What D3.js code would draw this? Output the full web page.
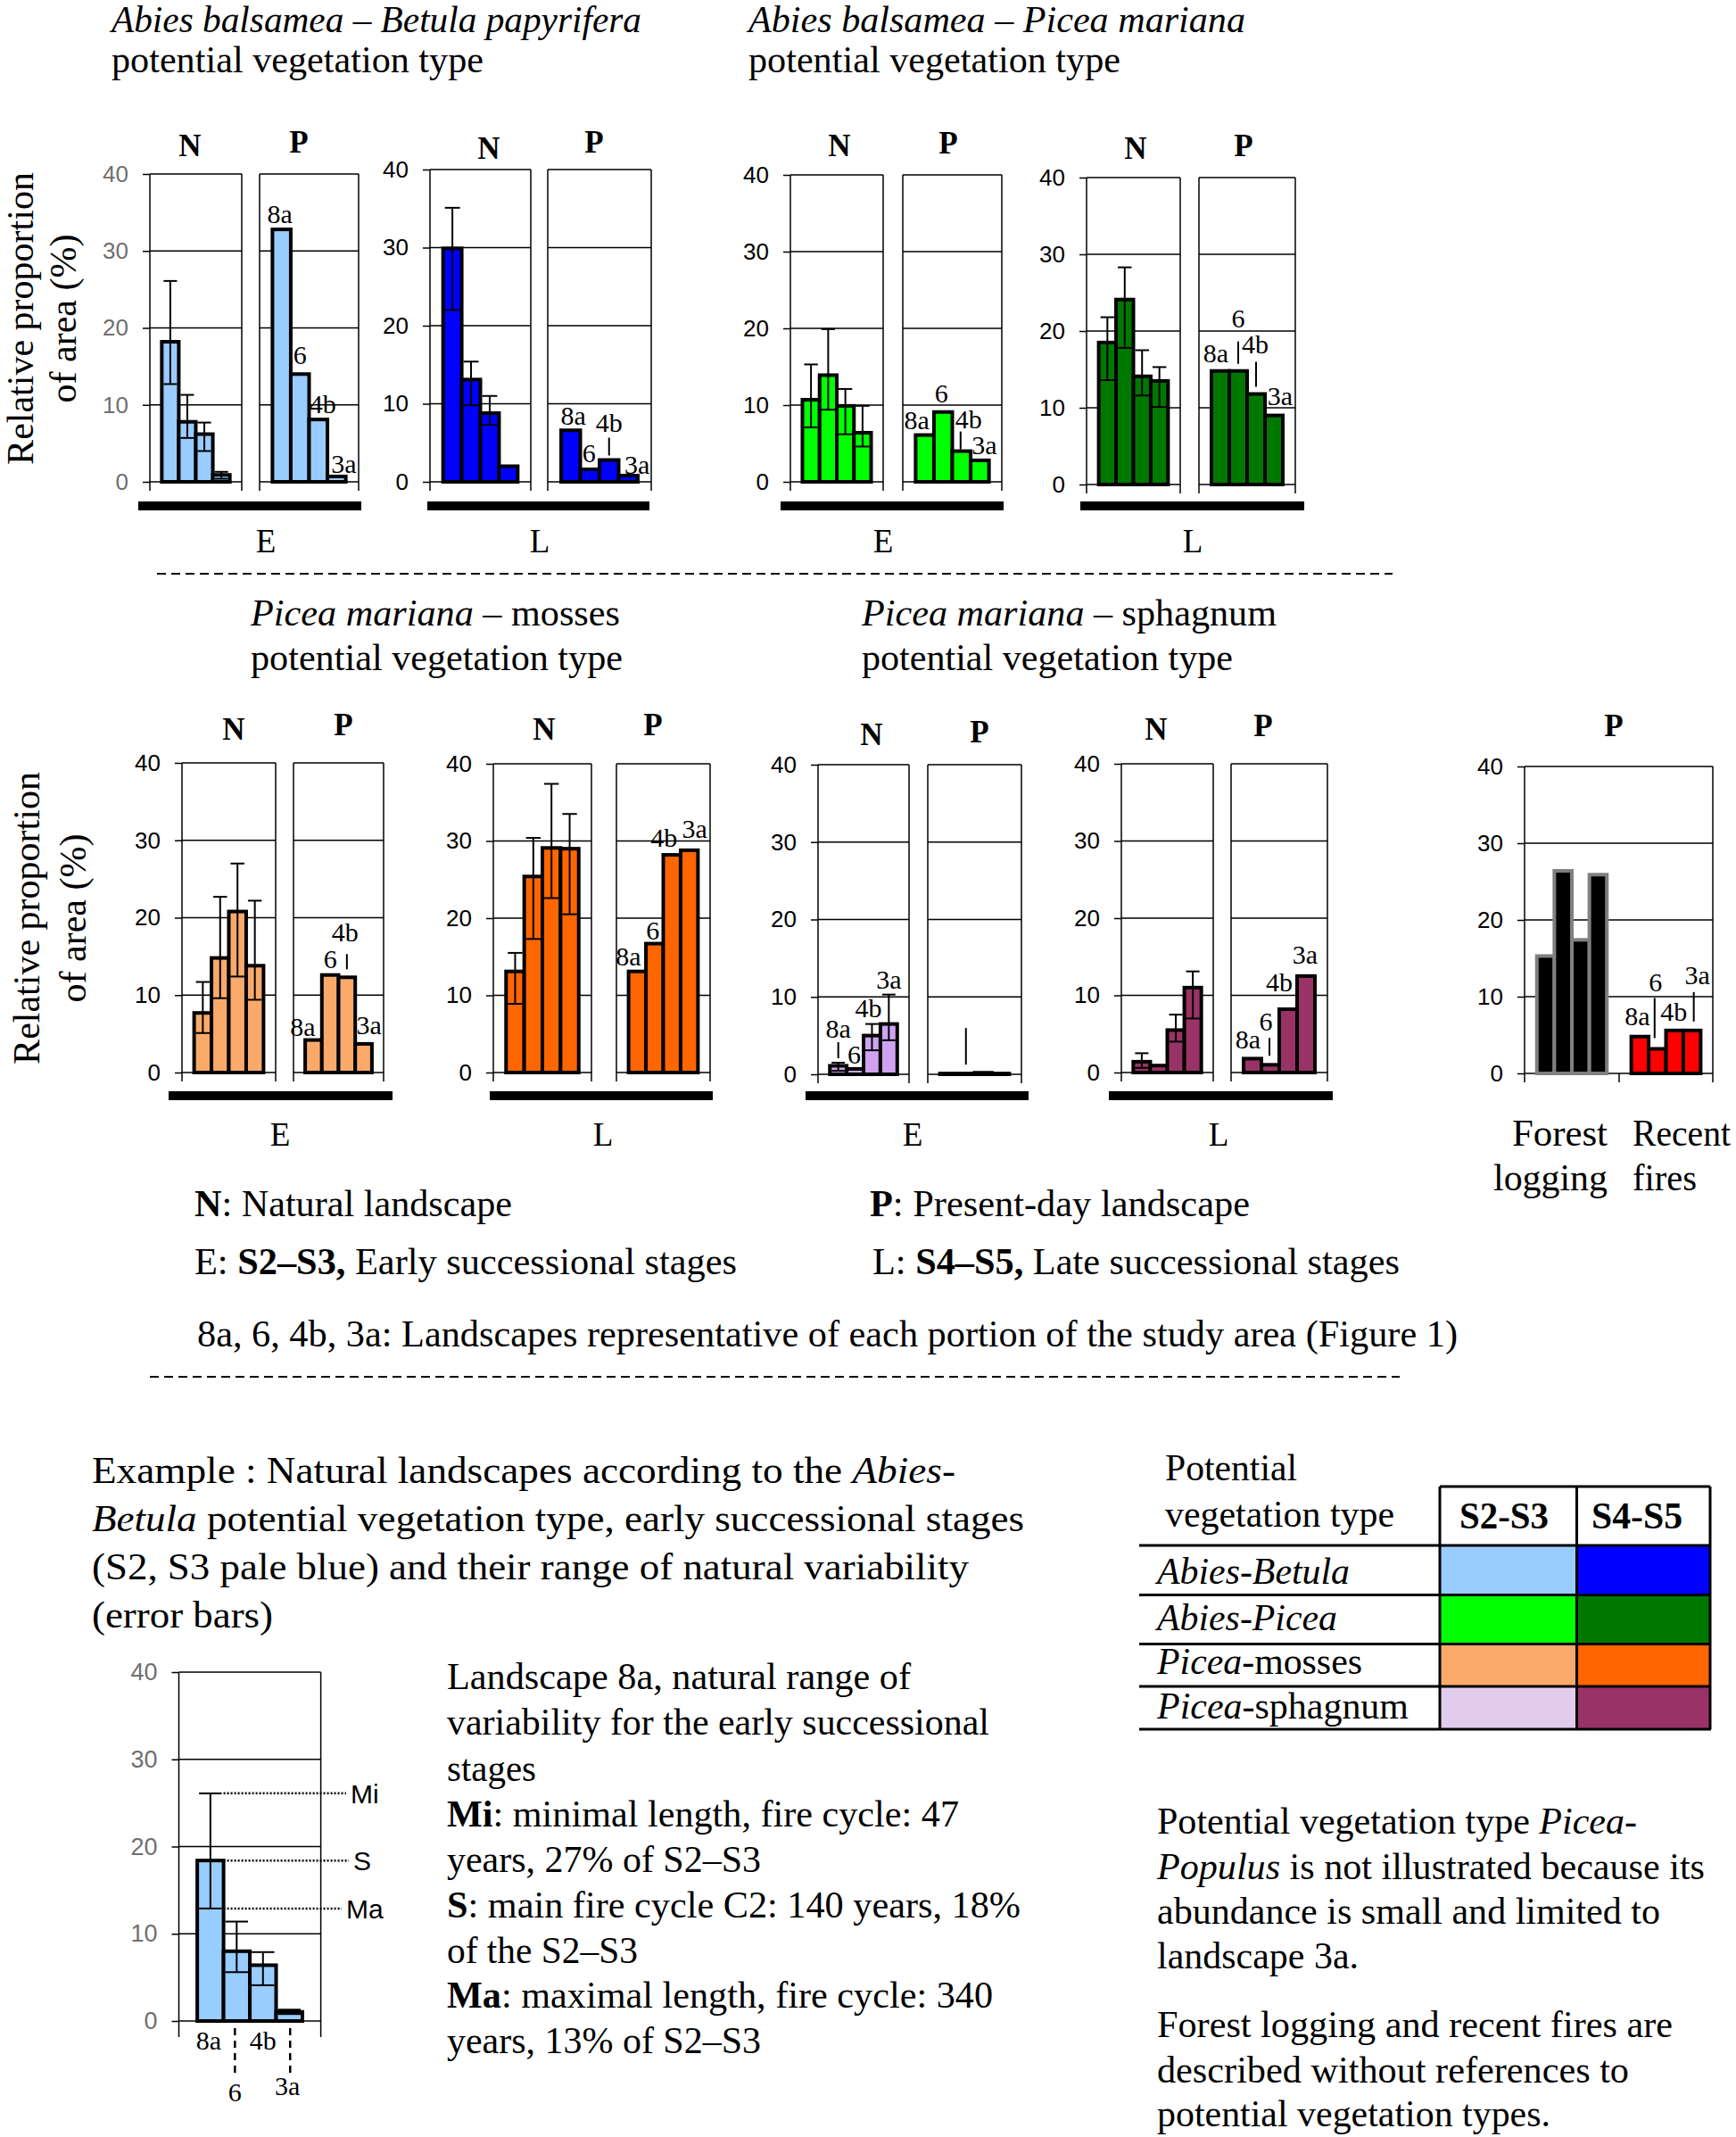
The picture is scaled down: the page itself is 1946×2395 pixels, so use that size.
<!DOCTYPE html>
<html><head><meta charset="utf-8">
<script src="https://cdn.jsdelivr.net/npm/d3@7"></script>
<style>
body{margin:0;background:#fff}
svg{display:block}
text{font-family:"Liberation Serif","Times New Roman",serif;white-space:pre}
</style>
</head><body>
<svg id="c" width="1946" height="2395"></svg>
<script>
// ---------------- DATA ----------------
const landscapes = ["8a", "6", "4b", "3a"];
const yTicks = [0, 10, 20, 30, 40];

// Abies balsamea – Betula papyrifera
const abE_N = [18.2, 7.8, 6.2, 0.9];
const abE_Nlo = [12.7, 5.7, 4.0, 0.4];
const abE_Nhi = [26.1, 11.3, 7.7, 1.3];
const abE_P = [32.8, 14.0, 8.1, 0.7];
const abL_N = [29.9, 13.1, 8.8, 2.0];
const abL_Nlo = [22.0, 9.8, 7.3, null];
const abL_Nhi = [35.1, 15.4, 11.0, null];
const abL_P = [6.6, 1.6, 2.8, 0.8];

// Abies balsamea – Picea mariana
const apE_N = [10.7, 13.9, 9.9, 6.4];
const apE_Nlo = [7.1, 9.4, 6.2, 4.6];
const apE_Nhi = [15.3, 19.9, 12.1, 9.9];
const apE_P = [6.1, 9.1, 4.0, 2.8];
const apL_N = [18.5, 24.1, 14.1, 13.5];
const apL_Nlo = [13.6, 17.8, 11.6, 10.1];
const apL_Nhi = [21.8, 28.3, 17.5, 15.3];
const apL_P = [14.8, 14.8, 11.8, 9.0];

// Picea mariana – mosses
const pmE_N = [7.7, 14.8, 20.8, 13.8];
const pmE_Nlo = [5.1, 9.6, 12.4, 9.4];
const pmE_Nhi = [11.7, 22.7, 27.0, 22.2];
const pmE_P = [4.2, 12.6, 12.3, 3.7];
const pmL_N = [13.1, 25.4, 29.1, 29.0];
const pmL_Nlo = [8.9, 17.3, 22.6, 20.5];
const pmL_Nhi = [15.5, 30.4, 37.4, 33.5];
const pmL_P = [13.1, 16.7, 28.2, 28.8];

// Picea mariana – sphagnum
const psE_N = [1.1, 0.7, 5.0, 6.5];
const psE_Nlo = [0.45, null, 3.1, 4.4];
const psE_Nhi = [1.5, null, 6.5, 10.3];
const psE_P = [0.1, 0.1, 0.2, 0.1];
const psL_N = [1.4, 0.9, 5.5, 11.0];
const psL_Nlo = [0.6, null, 4.0, 7.0];
const psL_Nhi = [2.5, null, 7.5, 13.1];
const psL_P = [1.8, 1.0, 8.2, 12.5];

// Present-day: forest logging and recent fires
const logging = [15.3, 26.4, 17.4, 25.9];
const fires = [4.8, 3.2, 5.6, 5.6];

// Example (Abies-Betula, natural, early stages)
const exN = [18.4, 8.0, 6.4, 1.05];
const exNlo = [12.9, 5.6, 4.1, 0.8];
const exNhi = [26.1, 11.4, 7.9, 1.3];

// Legend
const vegTypes = [[["Abies-Betula","i"]], [["Abies-Picea","i"]], [["Picea","i"],["-mosses",""]], [["Picea","i"],["-sphagnum",""]]];
const colS23 = ["#99CCFF", "#00FF00", "#F9AA6B", "#E2CCEE"];
const colS45 = ["#0000FF", "#007800", "#FF6600", "#993366"];
const barS23 = ["#99CCFF", "#00FF00", "#F9AA6B", "#CFA3F2"];

// ---------------- DRAWING ----------------
const svg = d3.select("#c");
const SANS = "'Liberation Sans',Arial,sans-serif";

function txt(x, y, parts, o = {}) {
  const t = svg.append("text").attr("x", x).attr("y", y)
    .attr("font-size", o.size || 42).attr("text-anchor", o.anchor || "start")
    .attr("fill", o.fill || "#000");
  if (o.family) t.style("font-family", o.family);
  if (o.weight) t.attr("font-weight", o.weight);
  if (o.transform) t.attr("transform", o.transform);
  const arr = Array.isArray(parts) ? parts : [[parts, ""]];
  arr.forEach(([s, st]) => {
    const ts = t.append("tspan").text(s);
    if (st && st.includes("i")) ts.attr("font-style", "italic");
    if (st && st.includes("b")) ts.attr("font-weight", "bold");
  });
  if (o.w) t.attr("textLength", o.w).attr("lengthAdjust", "spacingAndGlyphs");
  return t;
}
function line(x1, y1, x2, y2, o = {}) {
  return svg.append("line").attr("x1", x1).attr("y1", y1).attr("x2", x2).attr("y2", y2)
    .attr("stroke", o.stroke || "#000").attr("stroke-width", o.sw || 1.5)
    .attr("stroke-dasharray", o.dash || null);
}
function band(b) {
  return d3.scaleBand().domain(landscapes).range(b).paddingInner(0).paddingOuter(0.7);
}
function drawBox(b, y, ext = 10) {
  yTicks.forEach(t => line(b[0], y(t), b[1], y(t)));
  line(b[0], y(40), b[0], y(0) + ext);
  line(b[1], y(40), b[1], y(0) + ext);
}
function drawAxis(x, y, color, size) {
  const ax = svg.append("g").attr("transform", `translate(${x},0)`)
    .call(d3.axisLeft(y).tickValues(yTicks).tickSize(8).tickPadding(16).tickFormat(d3.format("d")));
  ax.select(".domain").remove();
  ax.selectAll("line").attr("stroke", "#000").attr("stroke-width", 1.5);
  ax.selectAll("text").style("font-family", SANS)
    .style("font-size", (size || 26) + "px").attr("fill", color || "#000");
}
function drawBars(xs, y, vals, fill, stroke) {
  svg.append("g").selectAll("rect").data(vals).join("rect")
    .attr("x", (d, i) => xs(landscapes[i]))
    .attr("y", d => y(d))
    .attr("width", xs.bandwidth())
    .attr("height", d => y(0) - y(d))
    .attr("fill", fill).attr("stroke", stroke || "#000").attr("stroke-width", 4);
}
function drawErr(xs, y, lo, hi) {
  const bw = xs.bandwidth();
  lo.forEach((l, i) => {
    if (l == null) return;
    const x0 = xs(landscapes[i]), xc = x0 + bw / 2;
    line(xc, y(l), xc, y(hi[i]), { sw: 2 });
    line(x0 + 2, y(hi[i]), x0 + bw - 2, y(hi[i]), { sw: 2 });
    line(x0 + 2, y(l), x0 + bw - 2, y(l), { sw: 2 });
  });
}
function drawLabels(xs, y, base, specs) {
  const bw = xs.bandwidth();
  specs.forEach((s, i) => {
    if (!s) return;
    const xc = xs(landscapes[i]) + bw / 2;
    const top = y(base[i]);
    const by = top - s.up;
    if (s.text !== false)
      txt(xc + (s.dx || 0), by, landscapes[i], { size: 30, anchor: "middle" });
    if (s.lead) {
      const lx = xc + (s.ldx || 0);
      line(lx, by + s.lead[0], lx, top - s.lead[1], { sw: 2 });
    }
  });
}

const panels = [
  { N: abE_N, lo: abE_Nlo, hi: abE_Nhi, P: abE_P, c: colS23[0], nb: [168, 271], pb: [291, 402], y40: 195, y0: 540,
    bar: [155, 405], barY: 567, st: "E", stX: 298, stY: 619, nl: [213, 175], pl: [335, 171], tc: "#6f6f6f",
    plab: [{ dx: -2, up: 7 }, { dx: 0, up: 11 }, { dx: 5, up: 7 }, { dx: 8, up: 4 }] },
  { N: abL_N, lo: abL_Nlo, hi: abL_Nhi, P: abL_P, c: colS45[0], nb: [482, 595], pb: [614, 730], y40: 190, y0: 540,
    bar: [479, 728], barY: 567, st: "L", stX: 605, stY: 619, nl: [548, 178], pl: [666, 171],
    plab: [{ dx: 3, up: 6 }, { dx: -1, up: 8 }, { dx: 0, up: 32, lead: [7, 5] }, { dx: 10, up: 2 }] },
  { N: apE_N, lo: apE_Nlo, hi: apE_Nhi, P: apE_P, c: colS23[1], nb: [886, 990], pb: [1012, 1123], y40: 196, y0: 540,
    bar: [875, 1125], barY: 567, st: "E", stX: 990, stY: 619, nl: [941, 175], pl: [1063, 172],
    plab: [{ dx: -9, up: 7 }, { dx: -2, up: 11 }, { dx: 8, up: 26, lead: [4, 2], ldx: -1 }, { dx: 5, up: 7 }] },
  { N: apL_N, lo: apL_Nlo, hi: apL_Nhi, P: apL_P, c: colS45[1], nb: [1218, 1323], pb: [1344, 1452], y40: 199, y0: 543,
    bar: [1211, 1462], barY: 567, st: "L", stX: 1337, stY: 619, nl: [1273, 178], pl: [1394, 175],
    plab: [{ dx: -5, up: 10 }, { dx: 0, up: 49, lead: [16, 8] }, { dx: -1, up: 46, lead: [10, 8] }, { dx: 7, up: 12 }] },
  { N: pmE_N, lo: pmE_Nlo, hi: pmE_Nhi, P: pmE_P, c: barS23[2], nb: [204, 309], pb: [329, 430], y40: 855, y0: 1202,
    bar: [189, 440], barY: 1228, st: "E", stX: 314, stY: 1284, nl: [262, 829], pl: [385, 824],
    plab: [{ dx: -12, up: 5 }, { dx: 0, up: 8 }, { dx: -2, up: 40, lead: [14, 9] }, { dx: 6, up: 11 }] },
  { N: pmL_N, lo: pmL_Nlo, hi: pmL_Nhi, P: pmL_P, c: colS45[2], nb: [553, 663], pb: [691, 796], y40: 856, y0: 1202,
    bar: [549, 799], barY: 1228, st: "L", stX: 676, stY: 1284, nl: [610, 829], pl: [732, 824],
    plab: [{ dx: -10, up: 7 }, { dx: -2, up: 5 }, { dx: -9, up: 9 }, { dx: 6, up: 14 }] },
  { N: psE_N, lo: psE_Nlo, hi: psE_Nhi, P: psE_P, c: barS23[3], nb: [917, 1019], pb: [1040, 1145], y40: 857, y0: 1204,
    bar: [903, 1153], barY: 1228, st: "E", stX: 1023, stY: 1284, nl: [977, 835], pl: [1098, 832],
    nlab: [{ dx: 0, up: 28, lead: [5, 5] }, { dx: -1, up: 6 }, { dx: -4, up: 8 }, { dx: 0, up: 7 }],
    plab: [null, { text: false, up: 57, lead: [6, 10] }, null, null] },
  { N: psL_N, lo: psL_Nlo, hi: psL_Nhi, P: psL_P, c: colS45[3], nb: [1257, 1360], pb: [1380, 1488], y40: 856, y0: 1202,
    bar: [1243, 1494], barY: 1228, st: "L", stX: 1366, stY: 1284, nl: [1296, 829], pl: [1416, 825],
    plab: [{ dx: -5, up: 11 }, { dx: -5, up: 38, lead: [8, 10], ldx: -1 }, { dx: -10, up: 20 }, { dx: -1, up: 14 }] }
];

panels.forEach(p => {
  const y = d3.scaleLinear().domain([0, 40]).range([p.y0, p.y40]);
  drawBox(p.nb, y);
  drawBox(p.pb, y);
  drawAxis(p.nb[0], y, p.tc);
  const xn = band(p.nb), xp = band(p.pb);
  drawBars(xn, y, p.N, p.c);
  drawErr(xn, y, p.lo, p.hi);
  drawBars(xp, y, p.P, p.c);
  if (p.nlab) drawLabels(xn, y, p.N.map((v, i) => p.hi[i] != null ? p.hi[i] : v), p.nlab);
  drawLabels(xp, y, p.P, p.plab);
  svg.append("rect").attr("x", p.bar[0]).attr("y", p.barY - 5).attr("width", p.bar[1] - p.bar[0]).attr("height", 10).attr("fill", "#000");
  txt(p.stX, p.stY, p.st, { size: 37, anchor: "middle" });
  txt(p.nl[0], p.nl[1], "N", { size: 35, anchor: "middle", weight: "bold" });
  txt(p.pl[0], p.pl[1], "P", { size: 35, anchor: "middle", weight: "bold" });
});

// Forest logging / recent fires panel
(function () {
  const y = d3.scaleLinear().domain([0, 40]).range([1203, 859]);
  const b = [1709, 1920], mid = 1815;
  drawBox(b, y);
  line(mid, y(0), mid, y(0) + 10);
  drawAxis(b[0], y);
  const xl = band([b[0], mid]), xf = band([mid, b[1]]);
  drawBars(xl, y, logging, "#000", "#808080");
  drawBars(xf, y, fires, "#FF0000", "#000");
  drawLabels(xf, y, fires, [{ dx: -3, up: 13 }, { dx: -2, up: 64, lead: [7, 12], ldx: -3 }, { dx: -1, up: 11 }, { dx: 6, up: 52, lead: [9, 10], ldx: 2 }]);
  txt(1809, 825, "P", { size: 35, anchor: "middle", weight: "bold" });
  txt(1802, 1284, "Forest", { anchor: "end", w: 107 });
  txt(1802, 1334, "logging", { anchor: "end", w: 128 });
  txt(1830, 1284, "Recent", { w: 110 });
  txt(1830, 1334, "fires", { w: 72 });
})();

// Titles
txt(125, 36, [["Abies balsamea – Betula papyrifera", "i"]], { w: 594 });
txt(125, 81, "potential vegetation type", { w: 417 });
txt(839, 36, [["Abies balsamea – Picea mariana", "i"]], { w: 557 });
txt(839, 81, "potential vegetation type", { w: 417 });
txt(281, 701, [["Picea mariana", "i"], [" – mosses", ""]], { w: 414 });
txt(281, 751, "potential vegetation type", { w: 417 });
txt(966, 701, [["Picea mariana", "i"], [" – sphagnum", ""]], { w: 465 });
txt(966, 751, "potential vegetation type", { w: 416 });

// Y axis titles
[[37, 85, 357], [44, 96, 1029]].forEach(([x1, x2, cy]) => {
  txt(0, 0, "Relative proportion", { anchor: "middle", transform: `translate(${x1},${cy}) rotate(-90)` });
  txt(0, 0, "of area (%)", { anchor: "middle", transform: `translate(${x2},${cy}) rotate(-90)` });
});

// Dashed separators
line(176, 643, 1561, 643, { sw: 2, dash: "10,6" });
line(168, 1543, 1569, 1543, { sw: 2, dash: "10,6" });

// Legend text
txt(218, 1363, [["N", "b"], [": Natural landscape", ""]], { w: 356 });
txt(975, 1363, [["P", "b"], [": Present-day landscape", ""]], { w: 426 });
txt(218, 1428, [["E: ", ""], ["S2–S3,", "b"], [" Early successional stages", ""]], { w: 608 });
txt(978, 1428, [["L: ", ""], ["S4–S5,", "b"], [" Late successional stages", ""]], { w: 591 });
txt(221, 1509, "8a, 6, 4b, 3a: Landscapes representative of each portion of the study area (Figure 1)", { w: 1413 });

// Example paragraph
txt(103, 1662, [["Example : Natural landscapes according to the ", ""], ["Abies-", "i"]], { w: 968 });
txt(103, 1716, [["Betula", "i"], [" potential vegetation type, early successional stages", ""]], { w: 1045 });
txt(103, 1770, "(S2, S3 pale blue) and their range of natural variability", { w: 983 });
txt(103, 1824, "(error bars)", { w: 203 });

// Example chart
(function () {
  const y = d3.scaleLinear().domain([0, 40]).range([2265, 1874]);
  const b = [200.5, 359.6];
  drawBox(b, y, 18);
  drawAxis(b[0], y, "#6f6f6f", 27);
  const xs = band(b);
  drawBars(xs, y, exN, colS23[0]);
  drawErr(xs, y, exNlo, exNhi);
  const bw = xs.bandwidth();
  const xr = xs("8a") + bw;
  [[exNhi[0], "Mi", 393], [exN[0], "S", 396], [exNlo[0], "Ma", 388]].forEach(([v, lab, lx]) => {
    line(xr, y(v), lx - 5, y(v), { sw: 2.5, dash: "2,2" });
    txt(lx, y(v) + 11, lab, { size: 30, family: SANS });
  });
  const c = l => xs(l) + bw / 2;
  txt(c("8a") - 2, 2297, "8a", { size: 30, anchor: "middle" });
  txt(c("4b"), 2297, "4b", { size: 30, anchor: "middle" });
  line(c("6") - 2, 2273, c("6") - 2, 2329, { sw: 2.5, dash: "8,6" });
  line(c("3a") + 1, 2273, c("3a") + 1, 2329, { sw: 2.5, dash: "8,6" });
  txt(c("6") - 2, 2355, "6", { size: 30, anchor: "middle" });
  txt(c("3a") - 2, 2348, "3a", { size: 30, anchor: "middle" });
})();

// Example explanation
const exLines = [
  [[["Landscape 8a, natural range of", ""]], 520],
  [[["variability for the early successional", ""]], 608],
  [[["stages", ""]], 100],
  [[["Mi", "b"], [": minimal length, fire cycle: 47", ""]], 574],
  [[["years, 27% of S2–S3", ""]], 352],
  [[["S", "b"], [": main fire cycle C2: 140 years, 18%", ""]], 643],
  [[["of the S2–S3", ""]], 214],
  [[["Ma", "b"], [": maximal length, fire cycle: 340", ""]], 612],
  [[["years, 13% of S2–S3", ""]], 352]
];
const exY = [1893, 1944, 1995.5, 2047, 2098, 2148.5, 2200, 2250, 2301];
exLines.forEach(([parts, w], i) => txt(501, exY[i], parts, { w }));

// Colour legend table
txt(1306, 1659, "Potential", { w: 148 });
txt(1306, 1711, "vegetation type", { w: 257 });
const rowY = [1732, 1787.6, 1842.6, 1890, 1938];
const cx = [1614, 1767.5, 1917];
vegTypes.forEach((v, i) => {
  svg.append("rect").attr("x", cx[0]).attr("y", rowY[i]).attr("width", cx[1] - cx[0]).attr("height", rowY[i + 1] - rowY[i]).attr("fill", colS23[i]);
  svg.append("rect").attr("x", cx[1]).attr("y", rowY[i]).attr("width", cx[2] - cx[1]).attr("height", rowY[i + 1] - rowY[i]).attr("fill", colS45[i]);
});
const rowLabW = [216, 202, 230, 282];
const rowLabY = [1775, 1827, 1876, 1926];
vegTypes.forEach((v, i) => txt(1297, rowLabY[i], v, { w: rowLabW[i] }));
rowY.forEach(yy => line(1277, yy, 1918, yy, { sw: 3 }));
line(cx[0], 1666, cx[2], 1666, { sw: 3 });
cx.forEach(x => line(x, 1666, x, 1938, { sw: 3 }));
txt(1686, 1713, "S2-S3", { anchor: "middle", weight: "bold", w: 100 });
txt(1835, 1713, "S4-S5", { anchor: "middle", weight: "bold", w: 102 });

// Notes
const notes = [
  [[["Potential vegetation type ", ""], ["Picea-", "i"]], 538, 2054.6],
  [[["Populus", "i"], [" is not illustrated because its", ""]], 614, 2106],
  [[["abundance is small and limited to", ""]], 564, 2155.7],
  [[["landscape 3a.", ""]], 226, 2206],
  [[["Forest logging and recent fires are", ""]], 578, 2283],
  [[["described without references to", ""]], 529, 2334],
  [[["potential vegetation types.", ""]], 441, 2383]
];
notes.forEach(([parts, w, yy]) => txt(1297, yy, parts, { w }));
</script>
</body></html>
